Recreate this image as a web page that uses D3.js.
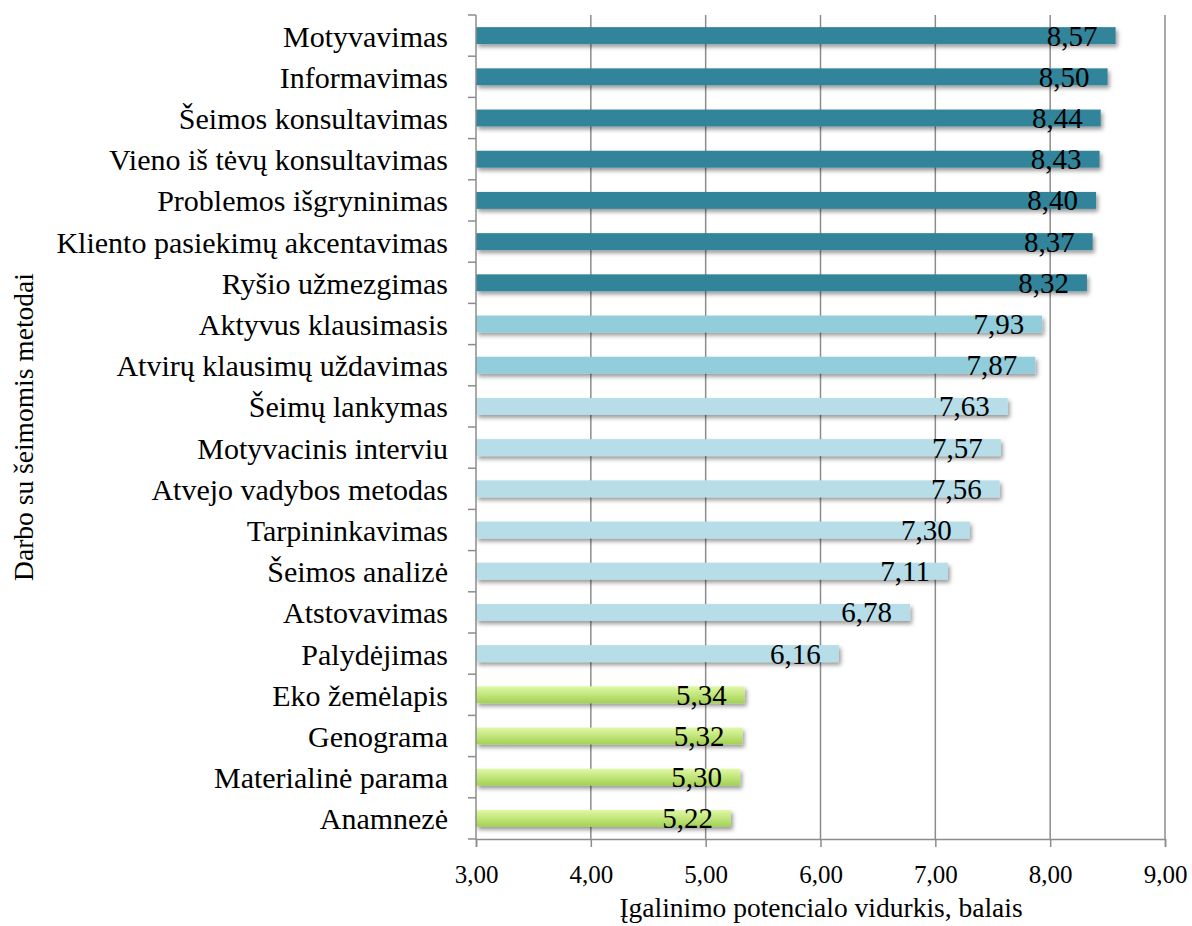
<!DOCTYPE html>
<html>
<head>
<meta charset="utf-8">
<script src="https://d3js.org/d3.v7.min.js"></script>
<style>
  body { margin: 0; background: #fff; }
  text { font-family: "Liberation Serif", "DejaVu Serif", serif; fill: #000; }
</style>
</head>
<body>
<div id="chart"></div>
<script>
var methods = ["Motyvavimas", "Informavimas", "Šeimos konsultavimas", "Vieno iš tėvų konsultavimas",
    "Problemos išgryninimas", "Kliento pasiekimų akcentavimas", "Ryšio užmezgimas", "Aktyvus klausimasis",
    "Atvirų klausimų uždavimas", "Šeimų lankymas", "Motyvacinis interviu", "Atvejo vadybos metodas",
    "Tarpininkavimas", "Šeimos analizė", "Atstovavimas", "Palydėjimas", "Eko žemėlapis", "Genograma",
    "Materialinė parama", "Anamnezė"];
var scores = [8.57, 8.50, 8.44, 8.43, 8.40, 8.37, 8.32, 7.93, 7.87, 7.63, 7.57, 7.56,
    7.30, 7.11, 6.78, 6.16, 5.34, 5.32, 5.30, 5.22];
// colour group of each bar
var groups = ["top", "top", "top", "top", "top", "top", "top", "mid", "mid", "low", "low", "low",
    "low", "low", "low", "low", "green", "green", "green", "green"];
var xTicks = [3, 4, 5, 6, 7, 8, 9];

var margin = { top: 15, right: 27, bottom: 87, left: 476 },
    width = 1192 - margin.left - margin.right,
    height = 926 - margin.top - margin.bottom;

var fmt = function(v) { return d3.format(".2f")(v).replace(".", ","); };

var svg = d3.select("#chart").append("svg")
    .attr("width", 1192)
    .attr("height", 926);

var defs = svg.append("defs");
var shadow = defs.append("filter").attr("id", "shadow")
    .attr("x", "-5%").attr("y", "-40%").attr("width", "110%").attr("height", "220%");
shadow.append("feDropShadow")
    .attr("dx", 2).attr("dy", 3).attr("stdDeviation", 2.2)
    .attr("flood-color", "#000").attr("flood-opacity", 0.4);

var grad = defs.append("linearGradient").attr("id", "green")
    .attr("x1", 0).attr("y1", 0).attr("x2", 0).attr("y2", 1);
grad.append("stop").attr("offset", "0%").attr("stop-color", "#e0f9a6");
grad.append("stop").attr("offset", "100%").attr("stop-color", "#a3d152");

var fills = { top: "#31849b", mid: "#92cddc", low: "#b6dde8", green: "url(#green)" };

var g = svg.append("g")
    .attr("transform", "translate(" + margin.left + "," + margin.top + ")");

var x = d3.scaleLinear().domain([3, 9]).range([0, width]),
    y = d3.scaleBand().domain(methods).range([0, height]).paddingInner(0.59).paddingOuter(0.295);

// vertical grid lines
g.append("g").selectAll("line")
    .data(xTicks.slice(1))
    .enter().append("line")
    .attr("x1", function(d) { return x(d); })
    .attr("x2", function(d) { return x(d); })
    .attr("y1", 0).attr("y2", height)
    .attr("stroke", "#8c8c8c").attr("stroke-width", 1.5);

// bars
g.append("g").selectAll("rect")
    .data(methods)
    .enter().append("rect")
    .attr("x", x(3))
    .attr("y", function(d) { return y(d); })
    .attr("width", function(d, i) { return x(scores[i]) - x(3); })
    .attr("height", y.bandwidth())
    .attr("fill", function(d, i) { return fills[groups[i]]; })
    .attr("filter", "url(#shadow)");

// value labels
g.append("g").selectAll("text")
    .data(methods)
    .enter().append("text")
    .attr("x", function(d, i) { return x(scores[i]) - 18; })
    .attr("y", function(d) { return y(d) + y.bandwidth() / 2 + 10; })
    .attr("text-anchor", "end")
    .style("font-size", "29px")
    .text(function(d, i) { return fmt(scores[i]); });

// x axis
var xAxis = g.append("g")
    .attr("transform", "translate(0," + height + ")")
    .call(d3.axisBottom(x).tickValues(xTicks).tickFormat(fmt).tickSize(8));

// y axis, ticks on band edges
var yAxis = g.append("g");
yAxis.append("line")
    .attr("x1", 0).attr("x2", 0).attr("y1", 0).attr("y2", height);
yAxis.selectAll("line.tick")
    .data(d3.range(methods.length + 1))
    .enter().append("line")
    .attr("class", "tick")
    .attr("x1", -8).attr("x2", 0)
    .attr("y1", function(d) { return d * height / methods.length; })
    .attr("y2", function(d) { return d * height / methods.length; });
yAxis.selectAll("line").attr("stroke", "#8c8c8c").attr("stroke-width", 1.5);

yAxis.selectAll("text")
    .data(methods)
    .enter().append("text")
    .attr("x", -28)
    .attr("y", function(d) { return y(d) + y.bandwidth() / 2 + 11; })
    .attr("text-anchor", "end")
    .style("font-size", "30px")
    .text(function(d) { return d; });

xAxis.select(".domain").attr("stroke", "#8c8c8c").attr("stroke-width", 1.5);
xAxis.selectAll(".tick line").attr("stroke", "#8c8c8c").attr("stroke-width", 1.5);
xAxis.selectAll(".tick text")
    .attr("y", 44).attr("dy", 0)
    .style("font-size", "25px")
    .style("font-family", "Liberation Serif, serif");

// axis titles
svg.append("text")
    .attr("x", 821).attr("y", 917)
    .attr("text-anchor", "middle")
    .style("font-size", "27.5px")
    .text("Įgalinimo potencialo vidurkis, balais");

svg.append("text")
    .attr("transform", "translate(33,427) rotate(-90)")
    .attr("text-anchor", "middle")
    .style("font-size", "27.5px")
    .text("Darbo su šeimomis metodai");
</script>
</body>
</html>
